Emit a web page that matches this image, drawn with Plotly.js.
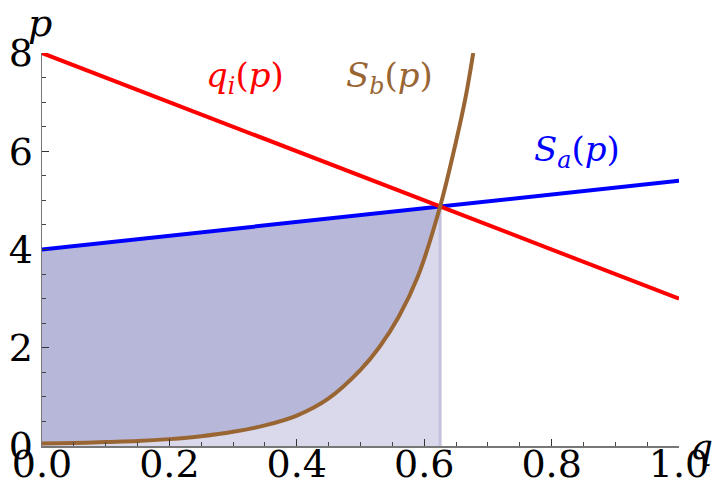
<!DOCTYPE html>
<html>
<head>
<meta charset="utf-8">
<script src="https://cdn.plot.ly/plotly-3.0.1.min.js"></script>
<style>
  html, body { margin: 0; padding: 0; background: #fff; }
  #chart { width: 714px; height: 488px; }
</style>
</head>
<body>
<div id="chart"></div>
<script>
// Demand line q_i(p)
const qRed = [0, 1];
const pRed = [8, 3];

// Supply line S_a(p)
const qBlue = [0, 1];
const pBlue = [4, 5.4];

// Supply curve S_b(p)
const qBrown = [0, 0.05, 0.1, 0.15, 0.2, 0.25, 0.3, 0.35, 0.4, 0.45, 0.5, 0.53, 0.56, 0.59, 0.625, 0.65, 0.665, 0.677];
const pBrown = [0.05, 0.06, 0.08, 0.1, 0.14, 0.2, 0.29, 0.42, 0.62, 0.97, 1.55, 2.02, 2.63, 3.45, 4.875, 6.2, 7.1, 8.0];

// Equilibrium point where all three meet
const qEq = 0.625;
const pEq = 4.875;

// Tick labels
const xTickVals = [0, 0.2, 0.4, 0.6, 0.8, 1.0];
const xTickText = ['0.0', '0.2', '0.4', '0.6', '0.8', '1.0'];
const yTickVals = [0, 2, 4, 6, 8];
const yTickText = ['0', '2', '4', '6', '8'];

const tickFamily = 'DejaVu Serif';
const labelFamily = 'DejaVu Serif';
const RED = '#ff0000', BLUE = '#0000ff', BROWN = '#996633';

// portion of the brown curve left of the equilibrium
const qBrownFill = [], pBrownFill = [];
for (let i = 0; i < qBrown.length; i++) {
  if (qBrown[i] <= qEq) { qBrownFill.push(qBrown[i]); pBrownFill.push(pBrown[i]); }
}

const traces = [
  // light area under S_b
  { x: qBrownFill, y: pBrownFill, type: 'scatter', mode: 'lines',
    line: { width: 0, shape: 'spline', smoothing: 1 }, fill: 'tozeroy',
    fillcolor: '#d9d9eb', hoverinfo: 'skip', showlegend: false },
  // darker area between S_b and S_a
  { x: [qBlue[0], qEq], y: [pBlue[0], pEq], type: 'scatter', mode: 'lines',
    line: { width: 0 }, fill: 'tonexty', fillcolor: '#b7b8d9',
    hoverinfo: 'skip', showlegend: false },
  // edge of the shaded area at the equilibrium quantity
  { x: [qEq, qEq], y: [0, pEq], type: 'scatter', mode: 'lines',
    line: { color: '#c2c2de', width: 3 }, hoverinfo: 'skip', showlegend: false },
  { x: qBlue, y: pBlue, type: 'scatter', mode: 'lines',
    line: { color: BLUE, width: 4 }, showlegend: false },
  { x: qRed, y: pRed, type: 'scatter', mode: 'lines',
    line: { color: RED, width: 4 }, showlegend: false },
  { x: qBrown, y: pBrown, type: 'scatter', mode: 'lines',
    line: { color: BROWN, width: 4, shape: 'spline', smoothing: 1 }, showlegend: false }
];

const axisCommon = {
  showgrid: false, zeroline: false, showline: true,
  linecolor: '#777', linewidth: 1.5,
  ticks: 'inside', ticklen: 7, tickwidth: 1.3, tickcolor: '#333',
  tickfont: { family: tickFamily, size: 38, color: '#000' }
};

const layout = {
  width: 714, height: 488,
  font: { family: tickFamily },
  margin: { l: 42, r: 35, t: 53, b: 42, pad: 0 },
  paper_bgcolor: '#fff', plot_bgcolor: '#fff',
  xaxis: Object.assign({}, axisCommon, {
    range: [0, 1], tickvals: xTickVals, ticktext: xTickText,
    ticklabelstandoff: -16,
    minor: { dtick: 0.05, ticks: 'inside', ticklen: 4, tickcolor: '#444', tickwidth: 1 }
  }),
  yaxis: Object.assign({}, axisCommon, {
    range: [0, 8], tickvals: yTickVals, ticktext: yTickText,
    minor: { dtick: 0.5, ticks: 'inside', ticklen: 4, tickcolor: '#444', tickwidth: 1 }
  }),
  annotations: [
    { text: '<i>q</i><sub><i>i</i></sub>(<i>p</i>)', x: 0.319, y: 7.5, xref: 'x', yref: 'y',
      showarrow: false, font: { family: labelFamily, size: 34, color: RED } },
    { text: '<i>S</i><sub><i>b</i></sub>(<i>p</i>)', x: 0.546, y: 7.5, xref: 'x', yref: 'y',
      showarrow: false, font: { family: labelFamily, size: 34, color: BROWN } },
    { text: '<i>S</i><sub><i>a</i></sub>(<i>p</i>)', x: 0.84, y: 6.0, xref: 'x', yref: 'y',
      showarrow: false, font: { family: labelFamily, size: 34, color: BLUE } },
    { text: '<i>p</i>', x: 0, y: 1, xref: 'paper', yref: 'paper', xanchor: 'center', yanchor: 'bottom',
      xshift: -2, yshift: 6, showarrow: false, font: { family: labelFamily, size: 38, color: '#000' } },
    { text: '<i>q</i>', x: 1, y: 0, xref: 'paper', yref: 'paper', xanchor: 'left', yanchor: 'middle',
      xshift: 9, showarrow: false, font: { family: labelFamily, size: 36, color: '#000' } }
  ]
};

Plotly.newPlot('chart', traces, layout, { displayModeBar: false, staticPlot: true });
</script>
</body>
</html>
